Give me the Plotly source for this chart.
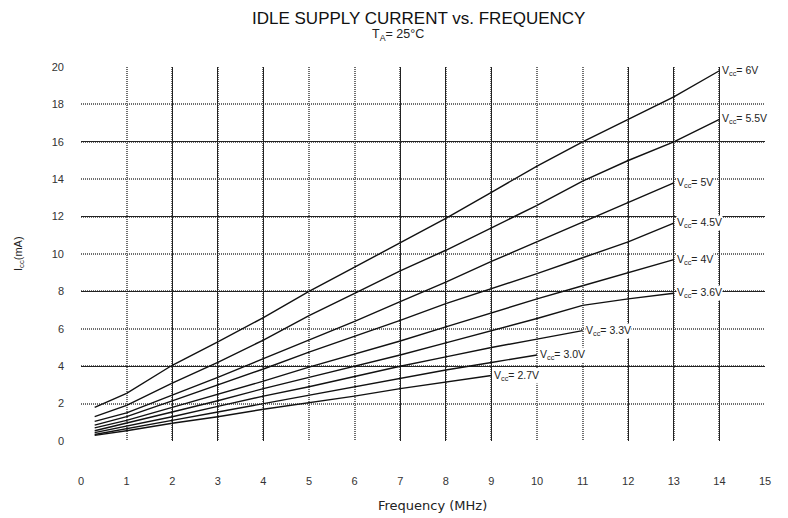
import plotly.graph_objects as go

# Idle supply current (mA) vs. clock frequency (MHz) at TA = 25 C, one curve per Vcc
freq_full = [0.3, 1, 2, 3, 4, 5, 6, 7, 8, 9, 10, 11, 12, 13, 14]

vcc_labels = ["6V", "5.5V", "5V", "4.5V", "4V", "3.6V", "3.3V", "3.0V", "2.7V"]

icc_6v0 = [1.8, 2.55, 4.05, 5.3, 6.6, 8.0, 9.3, 10.6, 11.9, 13.3, 14.7, 16.0, 17.2, 18.4, 19.8]
icc_5v5 = [1.3, 1.9, 3.1, 4.2, 5.4, 6.7, 7.9, 9.1, 10.2, 11.4, 12.6, 13.9, 15.0, 16.0, 17.2]
icc_5v0 = [1.05, 1.5, 2.45, 3.4, 4.4, 5.4, 6.4, 7.45, 8.5, 9.6, 10.65, 11.7, 12.75, 13.8]
icc_4v5 = [0.85, 1.3, 2.15, 3.0, 3.85, 4.75, 5.6, 6.45, 7.35, 8.15, 8.95, 9.8, 10.65, 11.65]
icc_4v0 = [0.7, 1.1, 1.8, 2.5, 3.2, 3.95, 4.65, 5.35, 6.1, 6.85, 7.6, 8.3, 9.0, 9.7]
icc_3v6 = [0.55, 0.95, 1.55, 2.15, 2.8, 3.4, 4.0, 4.6, 5.25, 5.9, 6.55, 7.25, 7.6, 7.9]
icc_3v3 = [0.45, 0.8, 1.3, 1.85, 2.4, 2.9, 3.45, 4.0, 4.5, 5.0, 5.45, 5.9]
icc_3v0 = [0.35, 0.65, 1.1, 1.55, 2.0, 2.45, 2.9, 3.35, 3.8, 4.2, 4.6]
icc_2v7 = [0.3, 0.55, 0.95, 1.3, 1.7, 2.05, 2.4, 2.8, 3.15, 3.5]

series = [icc_6v0, icc_5v5, icc_5v0, icc_4v5, icc_4v0, icc_3v6, icc_3v3, icc_3v0, icc_2v7]

x_ticks = list(range(0, 16))
y_ticks = list(range(0, 21, 2))
# grid lines printed heavy; the rest are light dotted
x_heavy = [2, 3, 4, 7, 8, 9, 12, 13, 14]
y_heavy = [0, 4, 8, 12, 16]

FONT = "Liberation Sans, Arial, sans-serif"
WIDE = "DejaVu Sans, sans-serif"

L, R, T, B = 81, 765, 67, 441  # plot area edges in px


def px_x(p):
    return (p - L) / (R - L)


fig = go.Figure()

for label, icc in zip(vcc_labels, series):
    fx = freq_full[:len(icc)]
    fig.add_trace(go.Scatter(
        x=fx, y=icc, mode="lines", name="Vcc= " + label,
        line=dict(color="#111111", width=1.4),
        showlegend=False,
    ))
    fig.add_annotation(
        x=fx[-1], y=icc[-1], xref="x", yref="y",
        text="V<sub>cc</sub>= " + label, showarrow=False,
        xanchor="left", yanchor="middle", xshift=2,
        bgcolor="white", borderpad=0,
        font=dict(family=FONT, size=10.5, color="#222222"),
    )

# hidden copy of the top curve so the heavy-grid overlay axes get drawn
fig.add_trace(go.Scatter(
    x=freq_full, y=icc_6v0, mode="lines", xaxis="x2", yaxis="y2",
    line=dict(width=0), opacity=0, hoverinfo="skip", showlegend=False,
))

axis_common = dict(showline=False, zeroline=False, ticks="")

fig.update_layout(
    width=788, height=518,
    margin=dict(l=L, r=788 - R, t=T, b=518 - B),
    paper_bgcolor="white", plot_bgcolor="white",
    font=dict(family=FONT, color="#333333"),
    xaxis=dict(range=[0, 15], tickvals=x_ticks, showgrid=True,
               gridcolor="#6e6e6e", griddash="1px,1px", gridwidth=1.8,
               ticklabelstandoff=32, tickfont=dict(size=11, color="#333333"),
               **axis_common),
    yaxis=dict(range=[0, 20], tickvals=y_ticks, showgrid=True,
               gridcolor="#6e6e6e", griddash="1px,1px", gridwidth=1.8,
               ticklabelstandoff=16, tickfont=dict(size=11, color="#333333"),
               **axis_common),
    xaxis2=dict(range=[0, 15], tickvals=x_heavy, showgrid=True,
                gridcolor="#222222", gridwidth=1.3, overlaying="x",
                anchor="y2", showticklabels=False, **axis_common),
    yaxis2=dict(range=[0, 20], tickvals=y_heavy, showgrid=True,
                gridcolor="#222222", gridwidth=1.3, overlaying="y",
                anchor="x2", showticklabels=False, **axis_common),
)

# titles
fig.add_annotation(
    x=px_x(418), xref="paper", y=1, yref="paper", yanchor="middle",
    yshift=T - 18, showarrow=False,
    text="IDLE SUPPLY CURRENT vs. FREQUENCY",
    font=dict(family=FONT, size=17, color="#111111"),
)
fig.add_annotation(
    x=px_x(398), xref="paper", y=1, yref="paper", yanchor="middle",
    yshift=T - 35, showarrow=False,
    text="T<sub>A</sub>= 25°C",
    font=dict(family=FONT, size=12.5, color="#222222"),
)
fig.add_annotation(
    x=px_x(432), xref="paper", y=0, yref="paper", yanchor="middle",
    yshift=-(505 - B), showarrow=False,
    text="Frequency (MHz)",
    font=dict(family=WIDE, size=13, color="#222222"),
)
fig.add_annotation(
    x=0, xref="paper", y=0.5, yref="paper", xanchor="center",
    xshift=-(L - 19), textangle=-90, showarrow=False,
    text="I<sub>cc</sub>(mA)",
    font=dict(family=FONT, size=11, color="#222222"),
)

fig.write_html("out.html")
